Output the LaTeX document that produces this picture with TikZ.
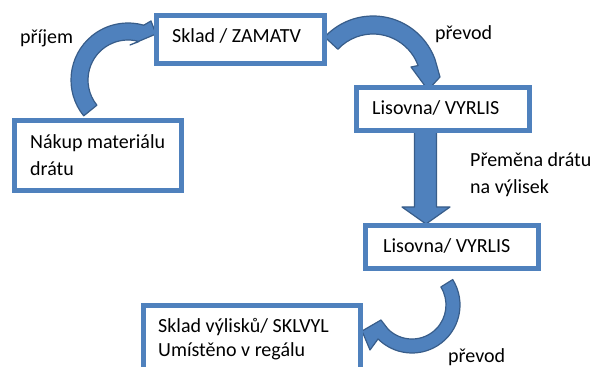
\documentclass[tikz,border=0pt]{standalone}
\usepackage{fontspec}
\setmainfont{Carlito}
\usetikzlibrary{calc}
\definecolor{boxblue}{HTML}{4F81BD}
\definecolor{arrowline}{HTML}{385D8A}
\begin{document}
\begin{tikzpicture}[x=1pt,y=1pt,
  boxst/.style={draw=boxblue, line width=4.5pt, rectangle, inner sep=0pt, fill=white},
  lbl/.style={anchor=base west, inner sep=0pt, font=\fontsize{20}{24}\selectfont, text=black},
  blockarrow/.style={fill=boxblue, draw=arrowline, line width=1.2pt, line join=round}]
\useasboundingbox (0,0) rectangle (595,367);
\clip (0,0) rectangle (595,367);
% arc centres of the curved arrows
\coordinate (c1) at (128,287);
\coordinate (c2) at (373,285);
\coordinate (c4) at (412,62);
% arrow 1: prijem
\filldraw[blockarrow] ($(c1)+(219:57)$) arc[start angle=219, end angle=74, radius=57]
  -- (151,346) -- (156,333) -- (130,322) -- ($(c1)+(74:40)$)
  arc[start angle=74, end angle=219, radius=40] -- cycle;
% arrow 2: prevod (top)
\filldraw[blockarrow] ($(c2)+(137:66)$) arc[start angle=137, end angle=20, radius=66]
  -- (440,290) -- (428,277) -- (411,300) -- ($(c2)+(20:48)$)
  arc[start angle=20, end angle=137, radius=48] -- cycle;
% arrow 3: straight down
\filldraw[blockarrow] (414.5,235) -- (414.5,160) -- (402,160) -- (426,143)
  -- (450,160) -- (436.5,160) -- (436.5,235) -- cycle;
% arrow 4: prevod (bottom)
\filldraw[blockarrow] ($(c4)+(32:48)$) arc[start angle=32, end angle=-135, radius=48]
  -- (370,17) -- (362,36) -- (381,47) -- ($(c4)+(-135:34)$)
  arc[start angle=-135, end angle=32, radius=34] -- cycle;
% boxes
\node[boxst, minimum width=168pt, minimum height=48pt] (zamatv) at (240.5,327.5) {};
\node[boxst, minimum width=167pt, minimum height=70pt] (nakup) at (98,211.5) {};
\node[boxst, minimum width=173pt, minimum height=43pt] (lis1) at (443,258) {};
\node[boxst, minimum width=173pt, minimum height=43pt] (lis2) at (452,120) {};
\node[boxst, minimum width=217pt, minimum height=70pt] (sklvyl) at (252,26.5) {};
% texts
\node[lbl] (tprijem) at (20,323) {příjem};
\node[lbl] (tzamatv) at (172,324) {Sklad / ZAMATV};
\node[lbl] (tnakupa) at (30,218) {Nákup materiálu};
\node[lbl] (tnakupb) at (30,191) {drátu};
\node[lbl] (tprevoda) at (435,327) {převod};
\node[lbl] (tlis1) at (372,252) {Lisovna/ VYRLIS};
\node[lbl] (tpremena) at (470,200.3) {Přeměna drátu};
\node[lbl] (tvylisek) at (470,173) {na výlisek};
\node[lbl] (tlis2) at (383,114) {Lisovna/ VYRLIS};
\node[lbl] (tsklvyla) at (158,34) {Sklad výlisků/ SKLVYL};
\node[lbl] (tsklvylb) at (158,10) {Umístěno v regálu};
\node[lbl] (tprevodb) at (448,4) {převod};
\end{tikzpicture}
\end{document}
